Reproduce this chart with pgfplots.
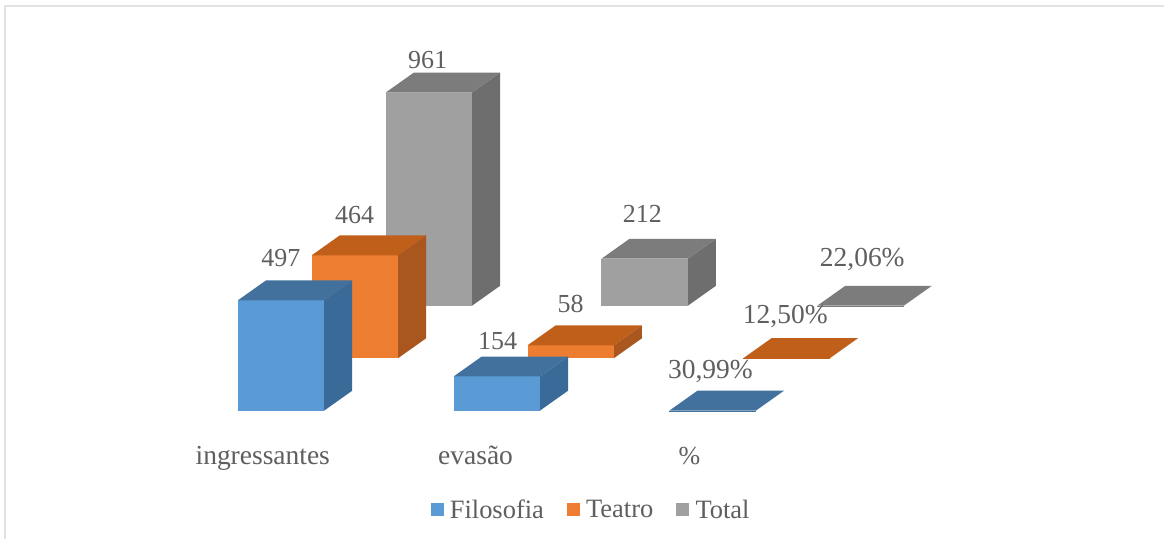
\documentclass[border=0pt]{standalone}
\usepackage{fontspec}
\setmainfont{Liberation Serif}
\usepackage{pgfplots}
\pgfplotsset{compat=1.18}

\definecolor{txt}{HTML}{5F5F5F}
\definecolor{frame}{HTML}{E2E2E2}
\definecolor{bluef}{HTML}{5B9BD5}
\definecolor{bluet}{HTML}{41719C}
\definecolor{blues}{HTML}{3A6A98}
\definecolor{orangef}{HTML}{ED7D31}
\definecolor{oranget}{HTML}{C05F1A}
\definecolor{oranges}{HTML}{A9561F}
\definecolor{greyf}{HTML}{A0A0A0}
\definecolor{greyt}{HTML}{7C7C7C}
\definecolor{greys}{HTML}{6E6E6E}
% flat bars of the % group: thin faces take the top colour
\colorlet{flatbluef}{bluet}\colorlet{flatbluet}{bluet}\colorlet{flatblues}{bluet}
\colorlet{flatorangef}{oranget}\colorlet{flatoranget}{oranget}\colorlet{flatoranges}{oranget}
\colorlet{flatgreyf}{greyt}\colorlet{flatgreyt}{greyt}\colorlet{flatgreys}{greyt}

\newcommand{\wide}{\fontsize{27.5}{30}\selectfont}

% #1 category, #2 series, #3 value, #4 colour prefix, #5 label, #6 #7 label shift
\newcommand{\drawbar}[7]{%
  \pgfmathsetmacro{\xa}{#1+0.4}
  \pgfmathsetmacro{\ya}{#2+0.38}
  \addplot3[fill=#4s, draw=none, mark=none] coordinates {(\xa,#2,0) (\xa,\ya,0) (\xa,\ya,#3) (\xa,#2,#3)};
  \addplot3[fill=#4f, draw=none, mark=none] coordinates {(#1,#2,0) (\xa,#2,0) (\xa,#2,#3) (#1,#2,#3)};
  \addplot3[fill=#4t, draw=none, mark=none] coordinates {(#1,#2,#3) (\xa,#2,#3) (\xa,\ya,#3) (#1,\ya,#3)};
  \node[anchor=base, inner sep=0pt, text=txt, xshift=#6pt, yshift=#7pt-8.5pt] at (axis cs:#1,#2,#3) {#5};
}

\begin{document}
\begin{tikzpicture}[x=1pt,y=1pt]
\fill[white] (0,0) rectangle (1165,539);
\draw[frame, line width=2pt] (5,0) -- (5,533) -- (1165,533);
\begin{axis}[
  at={(238pt,128pt)}, anchor=origin,
  x={(216pt,0pt)}, y={(74pt,52.5pt)}, z={(0pt,0.222pt)},
  xmin=0, xmax=3, ymin=0, ymax=2.5, zmin=0, zmax=1000,
  hide axis, clip=false,
  font=\fontsize{26}{30}\selectfont,
  legend columns=3,
  legend cell align=left,
  legend style={at={(axis cs:1.637,0,-446)}, anchor=center, draw=none, fill=none,
    inner sep=0pt, text=txt, font=\fontsize{26.5}{30}\selectfont,
    /tikz/every even column/.append style={column sep=21pt}},
]
\addlegendimage{legend image code/.code={\fill[bluef] (0pt,-6pt) rectangle (12pt,6pt); \path[draw=none] (0pt,0pt) -- (17pt,0pt);}}
\addlegendentry{Filosofia}
\addlegendimage{legend image code/.code={\fill[orangef] (0pt,-6pt) rectangle (12pt,6pt); \path[draw=none] (0pt,0pt) -- (17pt,0pt);}}
\addlegendentry{Teatro}
\addlegendimage{legend image code/.code={\fill[greyf] (0pt,-6pt) rectangle (12pt,6pt); \path[draw=none] (0pt,0pt) -- (17pt,0pt);}}
\addlegendentry{Total}

% ingressantes
\drawbar{0}{2}{961}{grey}{961}{42}{33}
\drawbar{0}{1}{464}{orange}{464}{43}{40}
\drawbar{0}{0}{497}{blue}{497}{43}{42}
% evasao
\drawbar{1}{2}{212}{grey}{212}{41}{45}
\drawbar{1}{1}{58}{orange}{58}{43}{41}
\drawbar{1}{0}{154}{blue}{154}{44}{36}
% percent, almost flat on this scale
\drawbar{2}{2}{0.2206}{flatgrey}{\wide 22,06\%}{45}{48}
\drawbar{2}{1}{0.125}{flatorange}{\wide 12,50\%}{42}{43}
\drawbar{2}{0}{0.3099}{flatblue}{\wide 30,99\%}{41}{41}

\node[anchor=base, text=txt, inner sep=0pt, xshift=25pt, yshift=-54pt] at (axis cs:0,0,0) {\wide ingressantes};
\node[anchor=base, text=txt, inner sep=0pt, xshift=22pt, yshift=-54pt] at (axis cs:1,0,0) {\wide evasão};
\node[anchor=base, text=txt, inner sep=0pt, xshift=20pt, yshift=-54pt] at (axis cs:2,0,0) {\%};
\end{axis}
\end{tikzpicture}
\end{document}
